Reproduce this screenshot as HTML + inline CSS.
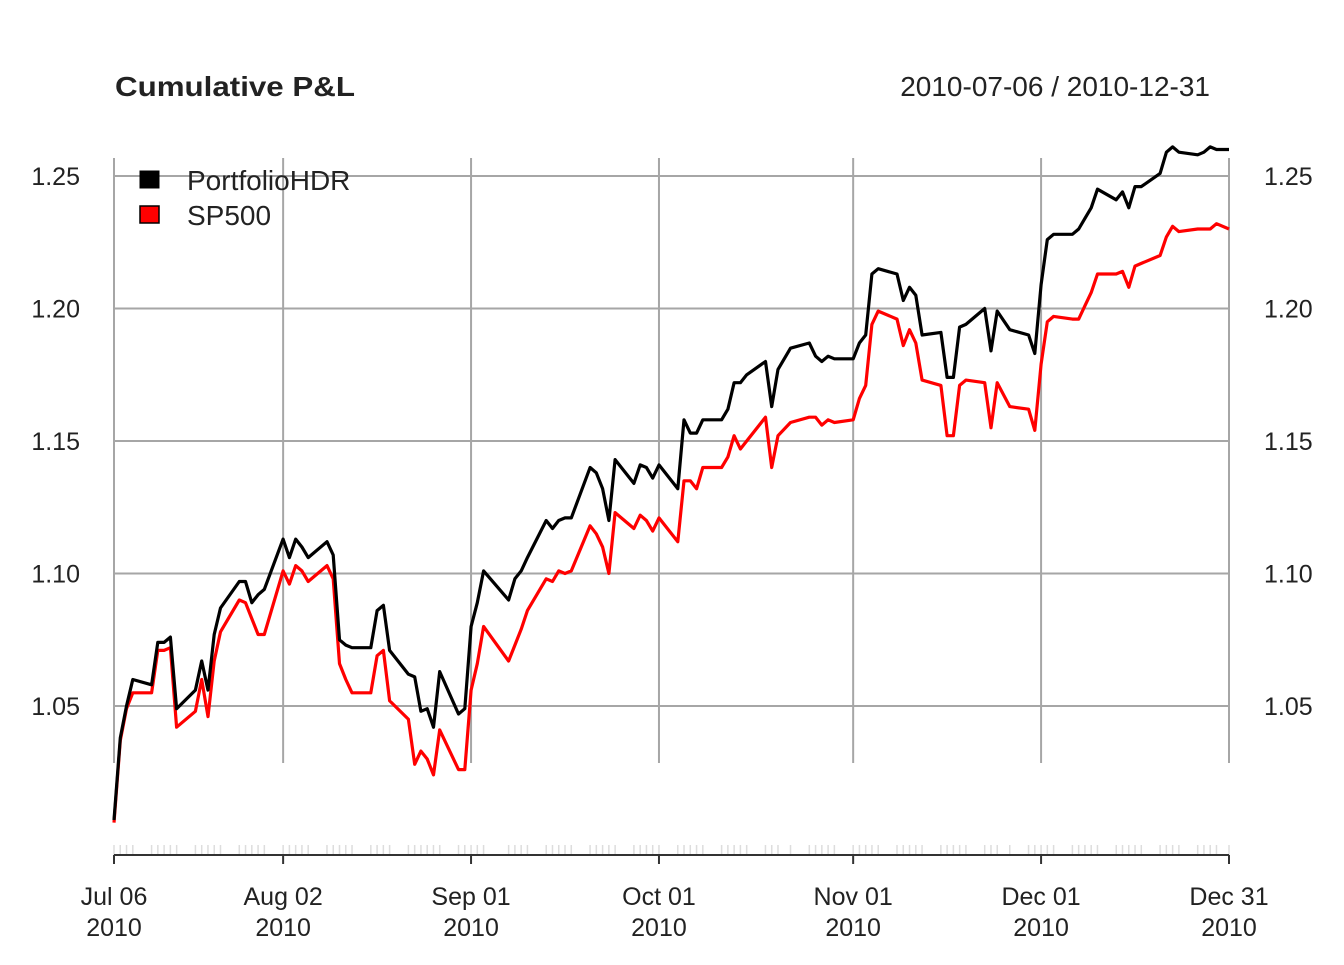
<!DOCTYPE html>
<html><head><meta charset="utf-8"><style>
body{margin:0;background:#fff}
svg text{font-family:"Liberation Sans",Arial,sans-serif;fill:#222}
</style></head><body>
<svg id="chart" width="1344" height="960" xmlns="http://www.w3.org/2000/svg">
<text x="115" y="96" font-size="28" font-weight="bold" textLength="240" lengthAdjust="spacingAndGlyphs">Cumulative P&amp;L</text>
<text x="1210" y="96" font-size="28" text-anchor="end">2010-07-06 / 2010-12-31</text>
<g id="grid"></g>
<g id="axes"></g>
<g id="series"></g>
<g>
<rect x="140" y="171" width="19" height="17" fill="#000" stroke="#000"/>
<text x="187" y="190" font-size="28">PortfolioHDR</text>
<rect x="140" y="206" width="19" height="17" fill="#f00" stroke="#000" stroke-width="1.5"/>
<text x="187" y="225" font-size="28">SP500</text>
</g>
</svg>
<script>
const days=[0,1,2,3,6,7,8,9,10,13,14,15,16,17,20,21,22,23,24,27,28,29,30,31,34,35,36,37,38,41,42,43,44,47,48,49,50,51,52,55,56,57,58,59,63,64,65,66,69,70,71,72,73,76,77,78,79,80,83,84,85,86,87,90,91,92,93,94,97,98,99,100,101,104,105,106,108,111,112,113,114,115,118,119,120,121,122,125,126,127,128,129,132,133,134,135,136,139,140,141,143,146,147,148,149,150,153,154,155,156,157,160,161,162,163,164,167,168,169,170,173,174,175,176,178];
const portfolio=[1.007,1.038,1.050,1.060,1.058,1.074,1.074,1.076,1.049,1.056,1.067,1.056,1.077,1.087,1.097,1.097,1.089,1.092,1.094,1.113,1.106,1.113,1.110,1.106,1.112,1.107,1.075,1.073,1.072,1.072,1.086,1.088,1.071,1.062,1.061,1.048,1.049,1.042,1.063,1.047,1.049,1.080,1.089,1.101,1.090,1.098,1.101,1.106,1.120,1.117,1.120,1.121,1.121,1.140,1.138,1.132,1.120,1.143,1.134,1.141,1.140,1.136,1.141,1.132,1.158,1.153,1.153,1.158,1.158,1.162,1.172,1.172,1.175,1.180,1.163,1.177,1.185,1.187,1.182,1.180,1.182,1.181,1.181,1.187,1.190,1.213,1.215,1.213,1.203,1.208,1.205,1.190,1.191,1.174,1.174,1.193,1.194,1.200,1.184,1.199,1.192,1.190,1.183,1.209,1.226,1.228,1.228,1.230,1.234,1.238,1.245,1.241,1.244,1.238,1.246,1.246,1.251,1.259,1.261,1.259,1.258,1.259,1.261,1.260,1.260];
const sp500=[1.006,1.037,1.049,1.055,1.055,1.071,1.071,1.072,1.042,1.048,1.060,1.046,1.067,1.078,1.090,1.089,1.083,1.077,1.077,1.101,1.096,1.103,1.101,1.097,1.103,1.098,1.066,1.060,1.055,1.055,1.069,1.071,1.052,1.045,1.028,1.033,1.030,1.024,1.041,1.026,1.026,1.056,1.066,1.080,1.067,1.073,1.079,1.086,1.098,1.097,1.101,1.100,1.101,1.118,1.115,1.110,1.100,1.123,1.117,1.122,1.120,1.116,1.121,1.112,1.135,1.135,1.132,1.140,1.140,1.144,1.152,1.147,1.150,1.159,1.140,1.152,1.157,1.159,1.159,1.156,1.158,1.157,1.158,1.166,1.171,1.194,1.199,1.196,1.186,1.192,1.187,1.173,1.171,1.152,1.152,1.171,1.173,1.172,1.155,1.172,1.163,1.162,1.154,1.179,1.195,1.197,1.196,1.196,1.201,1.206,1.213,1.213,1.214,1.208,1.216,1.217,1.220,1.227,1.231,1.229,1.230,1.230,1.230,1.232,1.230];
const yTicks=[1.05,1.10,1.15,1.20,1.25];
const yTickLabels=["1.05","1.10","1.15","1.20","1.25"];
const xTickDays=[0,27,57,87,118,148,178];
const xTickLabels=[["Jul 06","2010"],["Aug 02","2010"],["Sep 01","2010"],["Oct 01","2010"],["Nov 01","2010"],["Dec 01","2010"],["Dec 31","2010"]];

const NS="http://www.w3.org/2000/svg";
const x=d=>114+d*(1229-114)/178;
const y=v=>706-(v-1.05)*(706-176)/0.2;
function mk(tag,attrs,parent,text){const e=document.createElementNS(NS,tag);for(const k in attrs)e.setAttribute(k,attrs[k]);if(text!==undefined)e.textContent=text;parent.appendChild(e);return e;}
const grid=document.getElementById('grid'),axes=document.getElementById('axes'),series=document.getElementById('series');
yTicks.forEach((v,i)=>{
  const l=mk('line',{x1:114,x2:1229,y1:y(v),y2:y(v),stroke:'#a6a6a6','stroke-width':2},grid);
  
  
  const t1=mk('text',{x:80,y:y(v)+9,'font-size':25,'text-anchor':'end'},axes,yTickLabels[i]);
  
  
  const t2=mk('text',{x:1264,y:y(v)+9,'font-size':25},axes,yTickLabels[i]);
  
  
});
xTickDays.forEach((d,i)=>{
  const g=mk('line',{x1:x(d),x2:x(d),y1:158,y2:763,stroke:'#a6a6a6','stroke-width':2},grid);
  
  
  const t=mk('line',{x1:x(d),x2:x(d),y1:855,y2:864,stroke:'#333','stroke-width':2},axes);
  
  
  const a=mk('text',{x:x(d),y:905,'font-size':25,'text-anchor':'middle'},axes,xTickLabels[i][0]);
  
  
  const b=mk('text',{x:x(d),y:936,'font-size':25,'text-anchor':'middle'},axes,xTickLabels[i][1]);
  
  
});
days.forEach(d=>{
  const m=mk('line',{x1:x(d),x2:x(d),y1:845,y2:855,stroke:'#ddd','stroke-width':1.5},axes);
  
  
});
const ax=mk('line',{x1:114,x2:1229,y1:855,y2:855,stroke:'#333','stroke-width':2},axes);


function path(vals,color,name){
  const p=mk('path',{d:vals.map((v,i)=>(i?'L':'M')+x(days[i]).toFixed(1)+','+y(v).toFixed(1)).join(''),fill:'none',stroke:color,'stroke-width':3.2,'stroke-linejoin':'round'},series);
  
  
}
path(sp500,'#f00','sp500-line');
path(portfolio,'#000','portfolio-line');
</script>
</body></html>
